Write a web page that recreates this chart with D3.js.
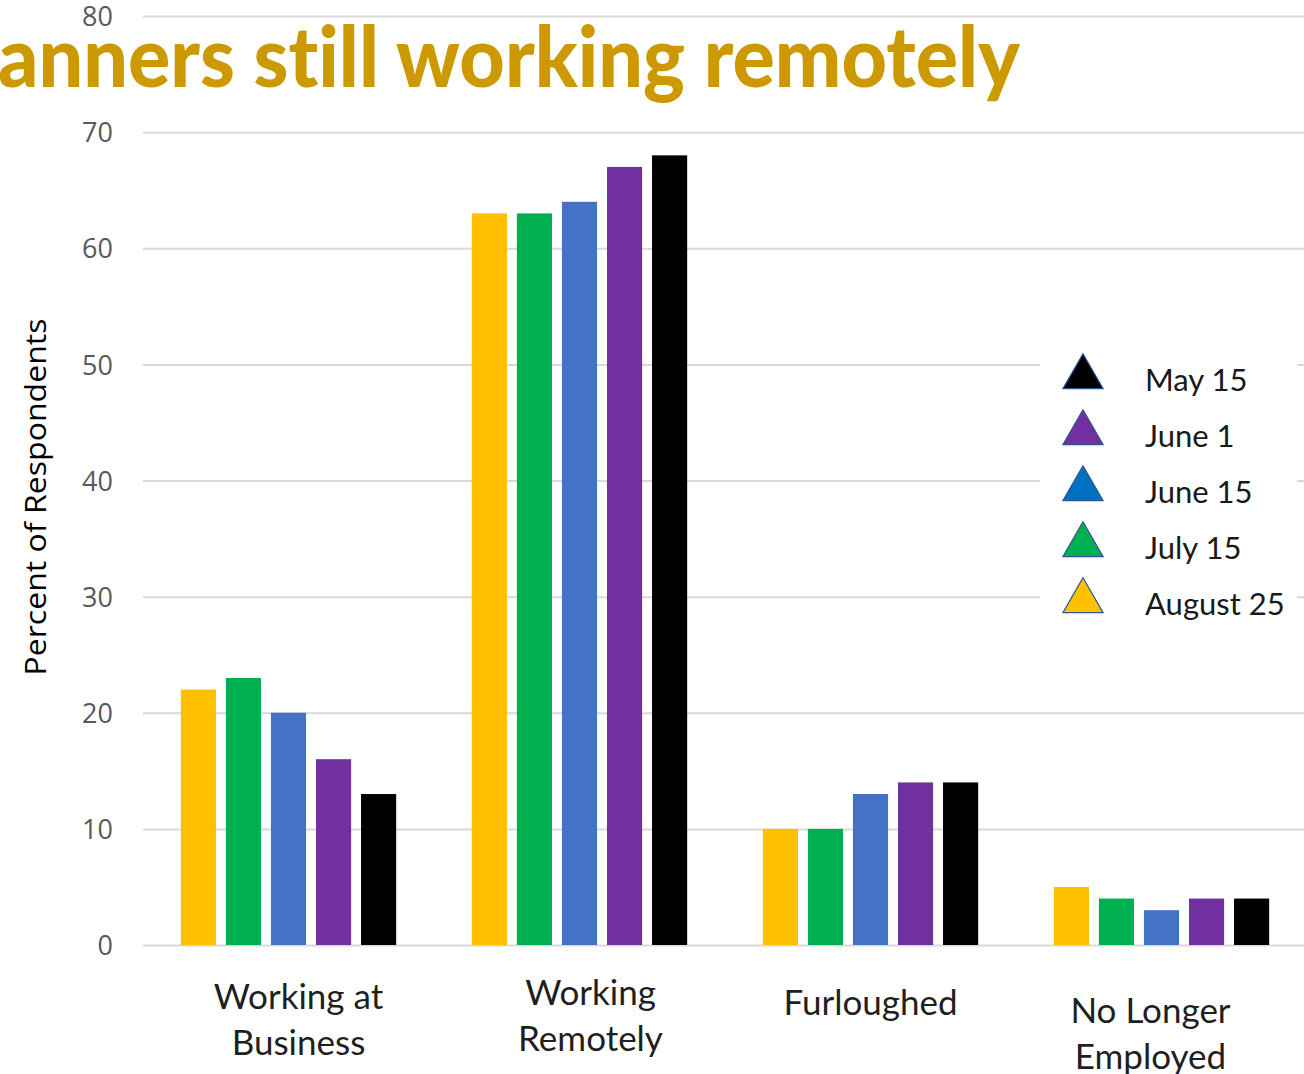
<!DOCTYPE html>
<html>
<head>
<meta charset="utf-8">
<script src="https://cdn.jsdelivr.net/npm/d3@7"></script>
<style>
  html, body { margin: 0; padding: 0; background: #fff; }
  svg { display: block; }
  text { font-family: Lato, "Noto Sans", sans-serif; font-variant-ligatures: none; }
</style>
</head>
<body>
<svg id="chart" width="1304" height="1074"></svg>
<script>
// Survey categories (multi-line labels)
const categories = ["Working at Business", "Working Remotely", "Furloughed", "No Longer Employed"];
const categoryLines = [["Working at", "Business"], ["Working", "Remotely"], ["Furloughed"], ["No Longer", "Employed"]];

// Survey dates, in bar order left to right
const seriesNames = ["August 25", "July 15", "June 15", "June 1", "May 15"];
const barColors = ["#ffc000", "#00b050", "#4472c4", "#7030a0", "#000000"];
const legendColors = ["#ffc000", "#00b050", "#0070c0", "#7030a0", "#000000"];

// Percent of respondents per series, one value per category
const august25 = [22, 63, 10, 5];
const july15 = [23, 63, 10, 4];
const june15 = [20, 64, 13, 3];
const june1 = [16, 67, 14, 4];
const may15 = [13, 68, 14, 4];
const seriesValues = [august25, july15, june15, june1, may15];

const yTicks = [0, 10, 20, 30, 40, 50, 60, 70, 80];

const svg = d3.select("#chart");

const plotLeft = 143, plotRight = 1307, plotTop = 16, plotBottom = 945;

const y = d3.scaleLinear().domain([0, 80]).range([plotBottom, plotTop]);

const x0 = d3.scaleBand()
  .domain(categories)
  .range([plotLeft, plotRight])
  .paddingInner(0.26)
  .paddingOuter(0.13);

const x1 = d3.scaleBand()
  .domain(seriesNames)
  .range([0, x0.bandwidth()])
  .paddingInner(0.22)
  .paddingOuter(0);

// Gridlines and value labels
const yAxis = d3.axisLeft(y)
  .tickValues(yTicks)
  .tickSize(-(1304 - plotLeft))
  .tickPadding(30);

const gAxis = svg.append("g")
  .attr("transform", `translate(${plotLeft},0)`)
  .call(yAxis);
gAxis.select(".domain").remove();
gAxis.selectAll(".tick line").attr("stroke", "#d9d9d9").attr("stroke-width", 2);
gAxis.selectAll(".tick text")
  .attr("fill", "#595959")
  .style("font-family", "'Open Sans', Lato, sans-serif")
  .style("font-size", "27px")
  .attr("dy", "0.36em");

// Title (runs off the left edge)
svg.append("text")
  .attr("x", -2)
  .attr("y", 87)
  .attr("fill", "#cc9a00")
  .style("font-size", "84px")
  .style("font-weight", 900)
  .attr("textLength", 1022)
  .attr("lengthAdjust", "spacingAndGlyphs")
  .text("anners still working remotely");

// Bars
const rows = [];
seriesNames.forEach((s, si) => {
  categories.forEach((c, ci) => {
    rows.push({ series: s, category: c, value: seriesValues[si][ci], color: barColors[si] });
  });
});

svg.append("g")
  .selectAll("rect")
  .data(rows)
  .join("rect")
  .attr("x", d => x0(d.category) + x1(d.series))
  .attr("y", d => y(d.value))
  .attr("width", x1.bandwidth())
  .attr("height", d => y(0) - y(d.value))
  .attr("fill", d => d.color);

// Category labels
const labelY = [997, 993, 1003, 1011];
const labelDx = [10, 11, 0, -11];
categories.forEach((c, i) => {
  const t = svg.append("text")
    .attr("text-anchor", "middle")
    .attr("fill", "#1f1f1f")
    .style("font-size", "35px")
    .attr("transform", `translate(${x0(c) + x0.bandwidth() / 2 + labelDx[i]},${labelY[i]})`);
  categoryLines[i].forEach((line, li) => {
    t.append("tspan")
      .attr("x", 0)
      .attr("y", li * 46)
      .attr("dy", "0.35em")
      .text(line);
  });
});

// Y axis title
svg.append("text")
  .attr("transform", "translate(46,497) rotate(-90)")
  .attr("text-anchor", "middle")
  .attr("fill", "#000")
  .style("font-family", "'Open Sans', Lato, sans-serif")
  .style("font-size", "29px")
  .attr("textLength", 357)
  .attr("lengthAdjust", "spacingAndGlyphs")
  .text("Percent of Respondents");

// Legend, newest date first
const legend = svg.append("g");
legend.append("rect")
  .attr("x", 1040).attr("y", 340)
  .attr("width", 257).attr("height", 285)
  .attr("fill", "#fff");

const legendOrder = d3.range(seriesNames.length).reverse();
const triangle = d3.symbol().type(d3.symbolTriangle).size(700);
legendOrder.forEach((si, k) => {
  const cy = 377 + k * 56;
  legend.append("path")
    .attr("d", triangle())
    .attr("transform", `translate(1083,${cy})`)
    .attr("fill", legendColors[si])
    .attr("stroke", "#2f5597")
    .attr("stroke-width", 1.2);
  legend.append("text")
    .attr("x", 1145)
    .attr("y", cy + 14)
    .attr("fill", "#1a1a1a")
    .style("font-size", "31px")
    .text(seriesNames[si]);
});
</script>
</body>
</html>
